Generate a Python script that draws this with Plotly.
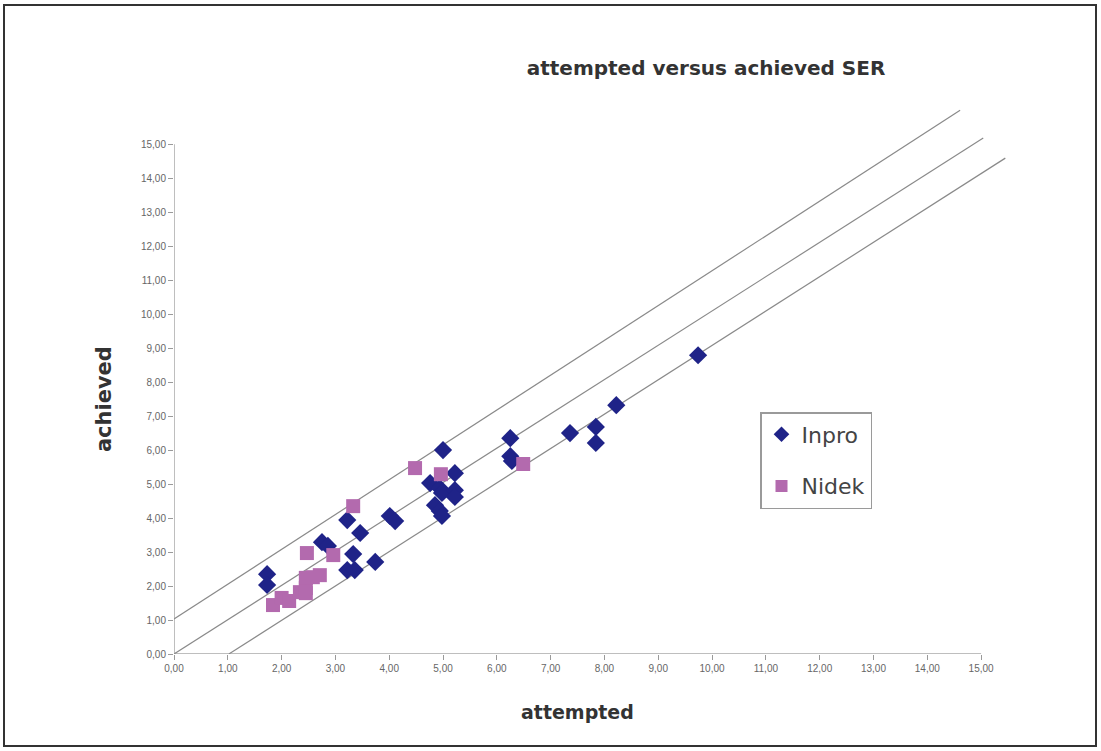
import plotly.graph_objects as go

# ---- data ----
inpro_x = [1.73, 1.73, 2.75, 2.86, 3.22, 3.46, 3.33, 3.22, 3.36, 3.74, 4.01, 4.11,
           4.76, 5.00, 4.94, 4.98, 4.85, 4.94, 4.98, 5.22, 5.22, 5.22,
           6.25, 6.25, 6.28, 7.36, 7.84, 7.84, 8.22, 9.74]
inpro_y = [2.35, 2.03, 3.29, 3.18, 3.94, 3.56, 2.94, 2.47, 2.47, 2.71, 4.06, 3.91,
           5.03, 6.00, 4.88, 4.74, 4.38, 4.21, 4.06, 5.32, 4.82, 4.62,
           6.35, 5.82, 5.68, 6.50, 6.68, 6.21, 7.32, 8.79]

nidek_x = [1.84, 2.00, 2.14, 2.34, 2.45, 2.45, 2.45, 2.58, 2.71, 2.47, 2.96, 3.33, 4.48, 4.96, 6.49]
nidek_y = [1.44, 1.65, 1.56, 1.82, 1.94, 1.79, 2.24, 2.26, 2.32, 2.97, 2.91, 4.35, 5.47, 5.29, 5.59]

# reference lines (endpoints)
upper_x = [0.0, 14.61]
upper_y = [1.03, 16.0]
middle_x = [0.0, 15.04]
middle_y = [0.0, 15.18]
lower_x = [1.02, 15.45]
lower_y = [0.0, 14.59]

tick_vals = list(range(0, 16))
tick_text = [f"{v},00" for v in tick_vals]

title_text = "attempted versus achieved SER"
x_title = "attempted"
y_title = "achieved"

W, H = 1101, 751
ML, MR, MT, MB = 174, 93, 100, 97
XMAX, YMAX = 15.5, 16.3

BOLD_FONT = "DejaVu Sans, Verdana, sans-serif"

fig = go.Figure()

line_style = dict(color="#8a8a8a", width=1.2)
for lx, ly in [(upper_x, upper_y), (middle_x, middle_y), (lower_x, lower_y)]:
    fig.add_trace(go.Scatter(x=lx, y=ly, mode="lines", line=line_style,
                             showlegend=False, hoverinfo="skip"))

fig.add_trace(go.Scatter(x=inpro_x, y=inpro_y, mode="markers", name="Inpro",
                         legendgroup="a",
                         marker=dict(symbol="diamond", size=14, color="#1f2388",
                                     line=dict(width=0))))
fig.add_trace(go.Scatter(x=nidek_x, y=nidek_y, mode="markers", name="Nidek",
                         legendgroup="b",
                         marker=dict(symbol="square", size=14, color="#b36aae",
                                     line=dict(width=0))))

axis_common = dict(
    showgrid=False, zeroline=False, showline=False,
    tickmode="array", tickvals=tick_vals, ticktext=tick_text,
    ticks="outside", ticklen=5, tickcolor="#9a9a9a", tickwidth=1,
    tickfont=dict(family="Liberation Sans, Arial", size=10, color="#666666"),
)

fig.update_xaxes(range=[0, XMAX], **axis_common)
fig.update_yaxes(range=[0, YMAX], **axis_common)

# axis lines (only to 15)
fig.add_shape(type="line", xref="x", yref="y", x0=0, x1=15, y0=0, y1=0,
              line=dict(color="#a8a8a8", width=1.5), layer="below")
fig.add_shape(type="line", xref="x", yref="y", x0=0, x1=0, y0=0, y1=15,
              line=dict(color="#a8a8a8", width=1.5), layer="below")

# outer frame
pw = W - ML - MR
ph = H - MT - MB
def px_to_paper_x(p):
    return (p - ML) / pw
def px_to_paper_y(p):
    return (H - MB - p) / ph
fig.add_shape(type="rect", xref="paper", yref="paper",
              x0=px_to_paper_x(4), x1=px_to_paper_x(1096),
              y0=px_to_paper_y(746), y1=px_to_paper_y(5),
              line=dict(color="#333333", width=2), fillcolor="rgba(0,0,0,0)")

# axis titles, centred on the 0..15 span
fig.add_annotation(text=f"<b>{x_title}</b>", x=7.5, xref="x", xanchor="center",
                   y=px_to_paper_y(712), yref="paper", yanchor="middle",
                   showarrow=False,
                   font=dict(family=BOLD_FONT, size=19, color="#333333"))
fig.add_annotation(text=f"<b>{y_title}</b>", y=7.5, yref="y", yanchor="middle",
                   x=px_to_paper_x(104), xref="paper", xanchor="center",
                   textangle=-90, showarrow=False,
                   font=dict(family=BOLD_FONT, size=21, color="#333333"))

fig.update_layout(
    width=W, height=H,
    margin=dict(l=ML, r=MR, t=MT, b=MB),
    paper_bgcolor="white", plot_bgcolor="white",
    title=dict(text=f"<b>{title_text}</b>", x=(706) / W, xanchor="center",
               y=1 - 68 / H, yanchor="middle",
               font=dict(family=BOLD_FONT, size=20, color="#333333")),
    legend=dict(x=px_to_paper_x(760), y=px_to_paper_y(412), xanchor="left", yanchor="top",
                bordercolor="#9a9a9a", borderwidth=1.5, bgcolor="white",
                font=dict(family="DejaVu Sans, Verdana, sans-serif", size=22, color="#444444"),
                tracegroupgap=20, traceorder="grouped", itemsizing="constant",
                itemwidth=30),
)

fig.write_html("out.html")
